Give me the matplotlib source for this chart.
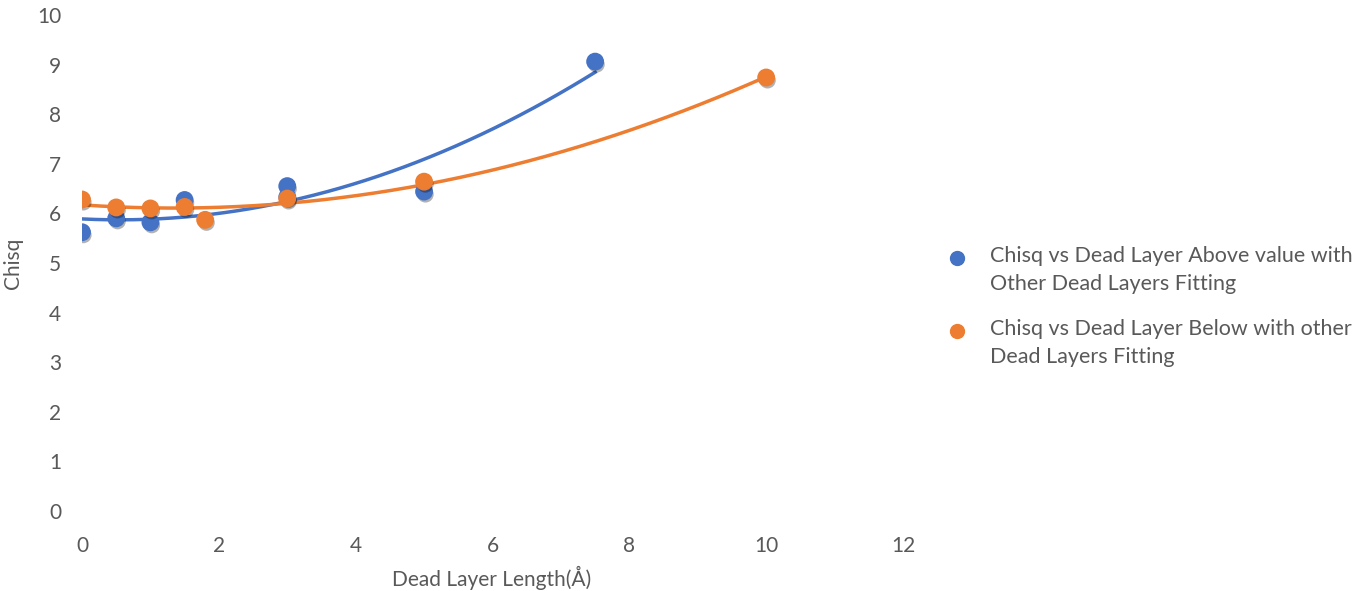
#!/usr/bin/env python3
"""
Chisq vs comprimento da camada morta, com linhas de tendência polinomiais
"""

import numpy as np
import matplotlib
matplotlib.use('Agg')
import matplotlib.pyplot as plt
import matplotlib.patheffects as pe
from matplotlib.lines import Line2D

# Dados
acima_x = [0, 0.5, 1, 1.5, 3, 3, 5, 7.5]
acima_y = [5.62, 5.90, 5.82, 6.27, 6.55, 6.33, 6.44, 9.06]

abaixo_x = [0, 0.5, 1, 1.5, 1.8, 3, 5, 10]
abaixo_y = [6.28, 6.12, 6.10, 6.13, 5.87, 6.30, 6.64, 8.74]

rotulo_acima = 'Chisq vs Dead Layer Above value with\nOther Dead Layers Fitting'
rotulo_abaixo = 'Chisq vs Dead Layer Below with other\nDead Layers Fitting'

AZUL = '#4472C4'
LARANJA = '#ED7D31'
CINZA = '#595959'

plt.rcParams['font.family'] = ['Lato', 'DejaVu Sans']

W, H = 1358, 591
fig = plt.figure(figsize=(W / 100, H / 100), dpi=100)
ax = fig.add_axes([82 / W, 80 / H, (903 - 82) / W, (511 - 15) / H])

sombra = [pe.SimplePatchShadow(offset=(1, -2), alpha=0.3, shadow_rgbFace='black'),
          pe.Normal()]

series = [(acima_x, acima_y, AZUL, rotulo_acima),
          (abaixo_x, abaixo_y, LARANJA, rotulo_abaixo)]

for xs, ys, cor, rot in series:
    # linha de tendência polinomial de ordem 2
    coef = np.polyfit(xs, ys, 2)
    xx = np.linspace(min(xs), max(xs), 200)
    ax.plot(xx, np.polyval(coef, xx), color=cor, linewidth=2.5, zorder=3)
    ax.scatter(xs, ys, s=140, color=cor, zorder=4, path_effects=sombra)

ax.set_xlim(0, 12)
ax.set_ylim(0, 10)
ax.set_xticks(range(0, 13, 2))
ax.set_yticks(range(0, 11))
for s in ax.spines.values():
    s.set_visible(False)
ax.tick_params(length=0, labelsize=15, colors=CINZA)
ax.tick_params(axis='x', pad=18)
ax.tick_params(axis='y', pad=15)

fig.text(492 / W, 1 - 578 / H, 'Dead Layer Length(Å)', fontsize=15, color=CINZA,
         ha='center', va='center')
fig.text(13 / W, 1 - 263 / H, 'Chisq', fontsize=15, color=CINZA,
         ha='center', va='center', rotation=90)

# legenda feita à mão (marcador alinhado à primeira linha do texto)
for (xs, ys, cor, rot), ytop in zip(series, [258, 331]):
    fig.add_artist(Line2D([957 / W], [1 - ytop / H], marker='o', markersize=10,
                          color=cor, linestyle='none'))
    fig.text(990 / W, 1 - (ytop - 12) / H, rot, fontsize=15.5, color=CINZA,
             ha='left', va='top', linespacing=1.5)

fig.savefig('out.png', dpi=100)
